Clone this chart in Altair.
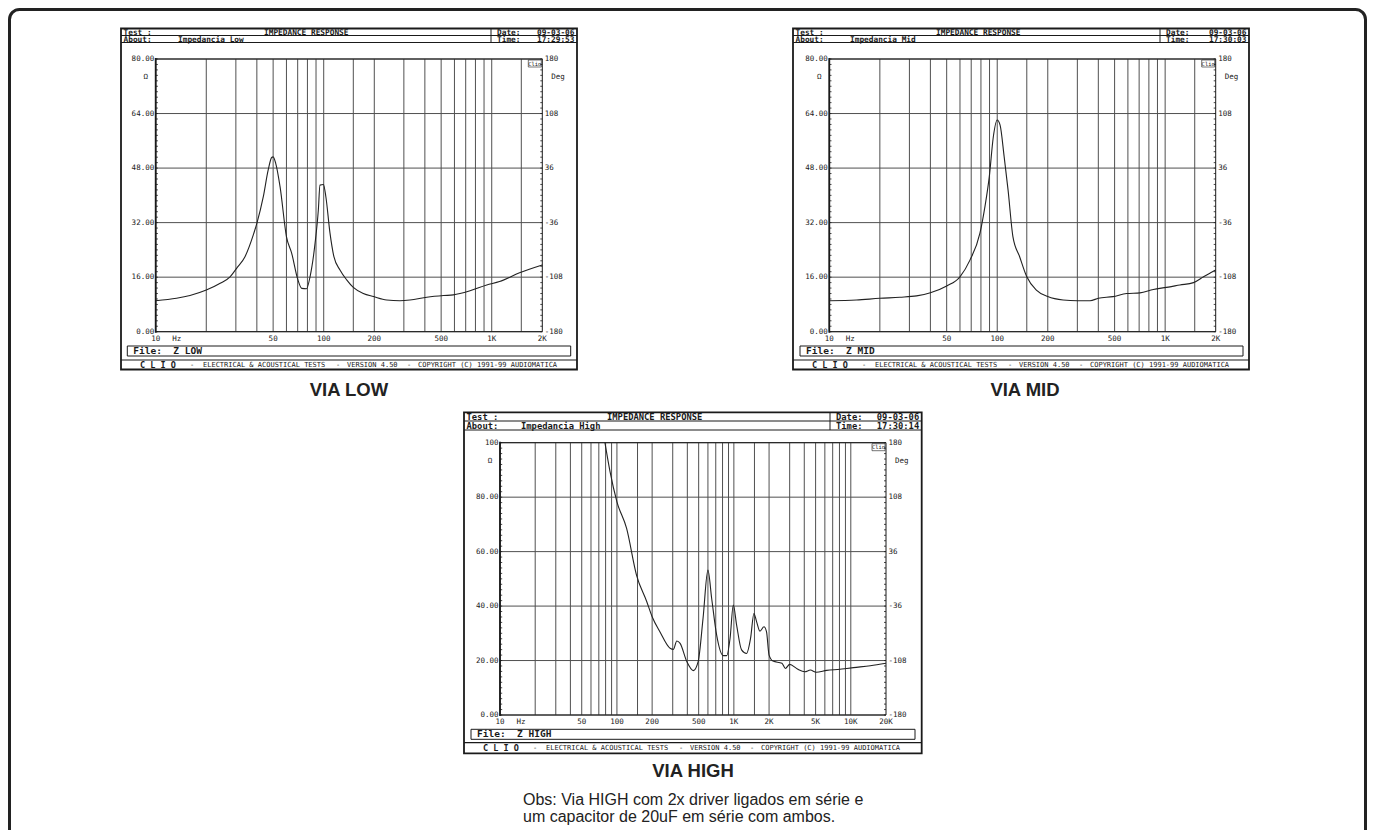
import altair as alt
import pandas as pd

OFF = 8.0
W, H = 1359, 822
INK = "#1a1a1a"
GRID = "#505050"
MONO = "DejaVu Sans Mono"
SANS = "Liberation Sans"

# ---------------- data ----------------
low_freq = [10, 13.3, 16, 20, 24.2, 27.7, 30.3, 34, 38.1, 40, 43.7, 46.7, 49, 50, 51.8,
            55, 60, 64.5, 70, 74, 79, 82.9, 88.8, 92.9, 95, 99.6, 103, 109, 115, 125,
            137, 150, 172, 198, 237, 284, 326, 411, 518, 591, 743, 934, 1113, 1464, 2000]
low_ohm = [9.1, 9.8, 10.6, 12.2, 14.2, 16.1, 18.6, 22, 28.4, 31.8, 39.6, 47.4, 51.1, 51.3, 49.4,
           42.5, 27.9, 23, 15.4, 12.7, 12.6, 16.1, 25.9, 35.7, 43, 43.2, 39.6, 28.9, 22, 18.1,
           15.2, 13, 11.2, 10.3, 9.3, 9.1, 9.3, 10.1, 10.6, 10.8, 12.0, 13.7, 14.7, 17.3, 19.6]

mid_freq = [10, 14.5, 20, 26.3, 33.1, 40, 50, 60, 68.8, 78.9, 84.5, 89.7, 94.8, 100, 104,
            110, 116, 124, 136, 150, 171, 200, 247, 300, 357, 400, 489, 590, 708, 850,
            1019, 1224, 1475, 1692, 2000]
mid_ohm = [9.1, 9.3, 9.8, 10.1, 10.5, 11.4, 13.4, 16.1, 21, 28.9, 36.7, 45.5, 57.2, 62.1, 60.6,
           51.3, 41.6, 27.9, 22, 16.1, 12.2, 10.3, 9.3, 9.1, 9.1, 9.8, 10.3, 11.2, 11.4, 12.4,
           13.0, 13.7, 14.4, 16.1, 18.1]

high_freq = [79, 87.3, 100, 121, 147, 180, 200, 233, 285, 304, 325, 347, 396, 450, 495, 545,
             600, 646, 712, 811, 869, 928, 989, 1056, 1164, 1283, 1390, 1484, 1564, 1670, 1808,
             1901, 2000, 2162, 2578, 2758, 3000, 3494, 4049, 4510, 5061, 6218, 8087, 9231,
             10538, 14697, 20000]
high_ohm = [100, 89.4, 78.3, 68.5, 51.4, 41.6, 36.1, 30.6, 24.5, 24.1, 27.2, 26.3, 19.6, 16.3,
            19.6, 35.5, 53.2, 42.8, 29.4, 21.8, 21.8, 28.2, 40.4, 33, 23.9, 22.6, 28.2, 37.3,
            34.3, 30.8, 32.4, 30.6, 22, 19.8, 19, 17.1, 18.6, 16.9, 15.9, 16.5, 15.7, 16.4,
            16.8, 17.1, 17.4, 18.1, 19]

grid_low = [20, 30, 40, 50, 60, 70, 80, 90, 100, 150, 200, 300, 400, 500, 600, 700, 800, 900, 1000, 1500]
grid_high = [20, 30, 40, 50, 60, 70, 80, 90, 100, 150, 200, 300, 400, 500, 600, 700, 800, 900,
             1000, 1500, 2000, 3000, 4000, 5000, 6000, 7000, 8000, 9000, 10000]

xt_low = [10, 50, 100, 200, 500, 1000, 2000]
xl_low = ["10", "50", "100", "200", "500", "1K", "2K"]
xt_high = [10, 50, 100, 200, 500, 1000, 2000, 5000, 10000, 20000]
xl_high = ["10", "50", "100", "200", "500", "1K", "2K", "5K", "10K", "20K"]

yt_80 = [0, 16, 32, 48, 64, 80]
yl_80 = ["0.00", "16.00", "32.00", "48.00", "64.00", "80.00"]
yt_100 = [0, 20, 40, 60, 80, 100]
yl_100 = ["0.00", "20.00", "40.00", "60.00", "80.00", "100"]
deg_labels = ["-180", "-108", "-36", "36", "108", "180"]

minor_80 = [i * 1.6 for i in range(51)]
minor_100 = [i * 2.0 for i in range(51)]

ONE = pd.DataFrame({"k": [0]})


def P(v):
    return v - OFF


def box(x1, y1, x2, y2, sw=1.0, color=INK, r=0):
    kw = dict(fillOpacity=0, stroke=color, strokeWidth=sw)
    if r:
        kw["cornerRadius"] = r
    return alt.Chart(ONE).mark_rect(**kw).encode(
        x=alt.value(P(x1)), x2=alt.value(P(x2)), y=alt.value(P(y1)), y2=alt.value(P(y2)))


def hline(x1, x2, y, sw=1.0, color=INK):
    return alt.Chart(ONE).mark_rule(color=color, strokeWidth=sw).encode(
        x=alt.value(P(x1)), x2=alt.value(P(x2)), y=alt.value(P(y)))


def vline(x, y1, y2, sw=1.0, color=INK):
    return alt.Chart(ONE).mark_rule(color=color, strokeWidth=sw).encode(
        x=alt.value(P(x)), y=alt.value(P(y1)), y2=alt.value(P(y2)))


def label(x, y, s, size=9.0, font=MONO, weight="normal", align="left", color=INK,
          baseline="middle"):
    return alt.Chart(ONE).mark_text(text=s, fontSize=size, font=font, fontWeight=weight,
                                    align=align, baseline=baseline, color=color).encode(
        x=alt.value(P(x)), y=alt.value(P(y)))


def clio_panel(g, freq, ohm, ymax, grid_f, xt, xl, yt, yl, minor, about, time_s, file_s):
    L, R, T, B = g["plot"]
    bx1, by1, bx2, by2 = g["box"]
    hf = g["hdr_font"]
    xs = alt.Scale(type="log", domain=[xt[0], xt[-1]], range=[P(L), P(R)], nice=False)
    ys = alt.Scale(type="linear", domain=[0, ymax], range=[P(B), P(T)], nice=False, zero=False)

    vgrid = alt.Chart(pd.DataFrame({"f": grid_f})).mark_rule(color=GRID, strokeWidth=1).encode(
        x=alt.X("f:Q", scale=xs, axis=None), y=alt.value(P(T)), y2=alt.value(P(B)))
    hgrid = alt.Chart(pd.DataFrame({"v": yt})).mark_rule(color=GRID, strokeWidth=1).encode(
        y=alt.Y("v:Q", scale=ys, axis=None), x=alt.value(P(L)), x2=alt.value(P(R)))
    mticks_l = alt.Chart(pd.DataFrame({"v": minor})).mark_rule(color=INK, strokeWidth=0.8).encode(
        y=alt.Y("v:Q", scale=ys, axis=None), x=alt.value(P(L)), x2=alt.value(P(L + 2.2)))
    mticks_r = alt.Chart(pd.DataFrame({"v": minor})).mark_rule(color=INK, strokeWidth=0.8).encode(
        y=alt.Y("v:Q", scale=ys, axis=None), x=alt.value(P(R - 2)), x2=alt.value(P(R)))
    curve = alt.Chart(pd.DataFrame({"f": freq, "z": ohm})).mark_line(
        color="#222222", strokeWidth=1.1, clip=False, interpolate="monotone").encode(
        x=alt.X("f:Q", scale=xs, axis=None), y=alt.Y("z:Q", scale=ys, axis=None))
    xlab = alt.Chart(pd.DataFrame({"f": xt, "t": xl})).mark_text(
        font=MONO, fontSize=7.5, color=INK, baseline="middle", align="center").encode(
        x=alt.X("f:Q", scale=xs, axis=None), y=alt.value(P(B + 7.3)), text="t:N")
    ylab = alt.Chart(pd.DataFrame({"v": yt, "t": yl})).mark_text(
        font=MONO, fontSize=7.5, color=INK, baseline="middle", align="right").encode(
        y=alt.Y("v:Q", scale=ys, axis=None), x=alt.value(P(L - 1.5)), text="t:N")
    dlab = alt.Chart(pd.DataFrame({"v": yt, "t": deg_labels})).mark_text(
        font=MONO, fontSize=7.5, color=INK, baseline="middle", align="left").encode(
        y=alt.Y("v:Q", scale=ys, axis=None), x=alt.value(P(R + 2.5)), text="t:N")
    data_layer = alt.layer(vgrid, hgrid, mticks_l, mticks_r, curve, xlab, ylab, dlab)

    hm, hb, dv = g["hdr_mid"], g["hdr_bot"], g["div"]
    fx1, fy1, fx2, fy2 = g["file"]
    fl, fy = g["foot_line"], g["foot_y"]
    hw = "bold"
    deco = [
        box(bx1, by1, bx2, by2, sw=1.8),
        hline(bx1, bx2, hm, sw=1),
        hline(bx1, bx2, hb, sw=1),
        vline(dv, by1, hb, sw=1),
        box(L, T, R, B, sw=1),
        vline(L, T - 1, B + 1, sw=1.8),
        box(fx1, fy1, fx2, fy2, sw=1),
        hline(bx1, bx2, fl, sw=1.2),
        label(bx1 + 2.5, (by1 + hm) / 2 + 0.5, "Test :", hf, weight=hw),
        label(bx1 + 143, (by1 + hm) / 2 + 0.5, "IMPEDANCE RESPONSE", hf, weight=hw),
        label(bx1 + 2.5, (hm + hb) / 2 + 0.5, "About:", hf, weight=hw),
        label(bx1 + 57, (hm + hb) / 2 + 0.5, about, hf, weight=hw),
        label(dv + 6, (by1 + hm) / 2 + 0.5, "Date:", hf, weight=hw),
        label(bx2 - 2.5, (by1 + hm) / 2 + 0.5, "09-03-06", hf, align="right", weight=hw),
        label(dv + 6, (hm + hb) / 2 + 0.5, "Time:", hf, weight=hw),
        label(bx2 - 2.5, (hm + hb) / 2 + 0.5, time_s, hf, align="right", weight=hw),
        label(fx1 + 6, (fy1 + fy2) / 2, file_s, 9.5, weight="bold"),
        label(bx1 + 19, fy, "C\u00a0L\u00a0I\u00a0O", 8.5, weight="bold"),
        label(bx1 + 69, fy, "-", 7),
        label(bx1 + 82, fy, "ELECTRICAL & ACOUSTICAL TESTS", 7),
        label(bx1 + 215, fy, "-", 7),
        label(bx1 + 226, fy, "VERSION 4.50", 7),
        label(bx1 + 286, fy, "-", 7),
        label(bx1 + 297, fy, "COPYRIGHT (C) 1991-99 AUDIOMATICA", 7),
        label(L - 10, T + 18, "\u03a9", 7.5, align="center"),
        label(R + 9, T + 18, "Deg", 7.5),
        label(L + 21, B + 7.3, "Hz", 7.5, align="center"),
        box(R - 14, T + 1, R - 1, T + 8, sw=0.6),
        label(R - 7.5, T + 4.5, "Clio", 5.5, align="center"),
    ]
    return [data_layer] + deco


G_LOW = dict(plot=(155.7, 542.3, 59, 331.7), box=(121, 28.5, 577, 369.5), hdr_mid=35.5,
             hdr_bot=42.5, div=491, file=(127.3, 346, 570.7, 356), foot_line=360, foot_y=365,
             hdr_font=7.8)
G_MID = dict(plot=(829.3, 1215.7, 59, 331.7), box=(793, 28.5, 1249, 369.5), hdr_mid=35.5,
             hdr_bot=42.5, div=1160, file=(800, 346, 1243, 356), foot_line=360, foot_y=365,
             hdr_font=7.8)
G_HIGH = dict(plot=(500, 886, 442.7, 715), box=(464, 412.3, 921.7, 753.3), hdr_mid=421,
              hdr_bot=430, div=830, file=(471, 729.3, 915, 739.3), foot_line=742.7, foot_y=747.7,
              hdr_font=8.8)

layers = []
layers.append(box(9.5, 9.5, 1365.5, 900, sw=3, color="#222222", r=10))
layers += clio_panel(G_LOW, low_freq, low_ohm, 80, grid_low, xt_low, xl_low, yt_80, yl_80,
                     minor_80, "Impedancia Low", "17:29:53", "File:\u00a0\u00a0Z LOW")
layers += clio_panel(G_MID, mid_freq, mid_ohm, 80, grid_low, xt_low, xl_low, yt_80, yl_80,
                     minor_80, "Impedancia Mid", "17:30:03", "File:\u00a0\u00a0Z MID")
layers += clio_panel(G_HIGH, high_freq, high_ohm, 100, grid_high, xt_high, xl_high, yt_100,
                     yl_100, minor_100, "Impedancia High", "17:30:14", "File:\u00a0\u00a0Z HIGH")
layers += [
    label(349, 389.5, "VIA LOW", 18.5, font=SANS, weight="bold", align="center", color="#222"),
    label(1025, 389.5, "VIA MID", 18.5, font=SANS, weight="bold", align="center", color="#222"),
    label(693, 771, "VIA HIGH", 18.5, font=SANS, weight="bold", align="center", color="#222"),
    label(523, 805, "Obs: Via HIGH com 2x driver ligados em s\u00e9rie e", 16, font=SANS,
          color="#222", baseline="alphabetic"),
    label(523, 822, "um capacitor de 20uF em s\u00e9rie com ambos.", 16, font=SANS,
          color="#222", baseline="alphabetic"),
]

chart = alt.layer(*layers).properties(
    width=W, height=H, padding=0, autosize="none"
).resolve_scale(x="independent", y="independent").configure_view(stroke=None)

chart.save("out.html", embed_options={"renderer": "svg", "actions": False})
